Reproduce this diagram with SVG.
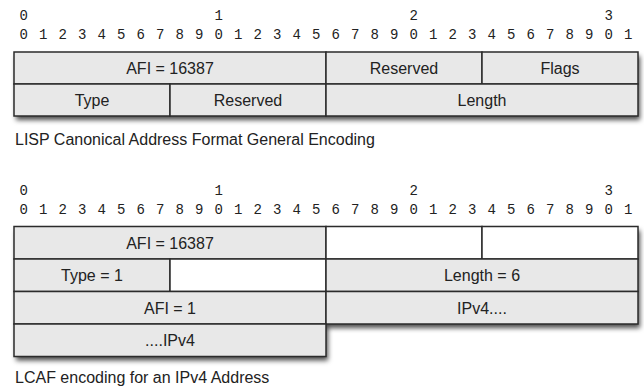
<svg xmlns="http://www.w3.org/2000/svg" width="644" height="390" viewBox="0 0 644 390">
<style>
.bits{font-family:"Liberation Mono","DejaVu Sans Mono",monospace;font-size:14px;fill:#222;text-anchor:middle}
.cell rect{stroke:#2b2b2b;stroke-width:1.5}
.g rect{fill:#e8e8e8}
.w rect{fill:#ffffff}
.lbl{font-family:"Liberation Sans",Arial,sans-serif;font-size:16px;fill:#222;text-anchor:middle}
.cap{font-family:"Liberation Sans",Arial,sans-serif;font-size:16px;fill:#222}
.shadow{fill:#e8e8e8}
</style>
<defs>
<filter id="ds" x="-5%" y="-20%" width="110%" height="160%">
<feDropShadow dx="2" dy="4" stdDeviation="2.5" flood-color="#000" flood-opacity="0.7"/>
</filter>
</defs>
<rect width="644" height="390" fill="#ffffff"/>

<g id="bits1" class="bits">
<text x="23.75" y="20">0</text><text x="218.75" y="20">1</text><text x="413.75" y="20">2</text><text x="608.75" y="20">3</text>
<text x="23.75" y="39">0</text><text x="43.25" y="39">1</text><text x="62.75" y="39">2</text><text x="82.25" y="39">3</text><text x="101.75" y="39">4</text><text x="121.25" y="39">5</text><text x="140.75" y="39">6</text><text x="160.25" y="39">7</text><text x="179.75" y="39">8</text><text x="199.25" y="39">9</text>
<text x="218.75" y="39">0</text><text x="238.25" y="39">1</text><text x="257.75" y="39">2</text><text x="277.25" y="39">3</text><text x="296.75" y="39">4</text><text x="316.25" y="39">5</text><text x="335.75" y="39">6</text><text x="355.25" y="39">7</text><text x="374.75" y="39">8</text><text x="394.25" y="39">9</text>
<text x="413.75" y="39">0</text><text x="433.25" y="39">1</text><text x="452.75" y="39">2</text><text x="472.25" y="39">3</text><text x="491.75" y="39">4</text><text x="511.25" y="39">5</text><text x="530.75" y="39">6</text><text x="550.25" y="39">7</text><text x="569.75" y="39">8</text><text x="589.25" y="39">9</text>
<text x="608.75" y="39">0</text><text x="628.25" y="39">1</text>
</g>

<rect class="shadow" x="14" y="52" width="624" height="64" filter="url(#ds)"/>
<g id="d1-afi" class="cell g"><rect x="14" y="52" width="312" height="32"/><text class="lbl" x="170" y="73.5">AFI = 16387</text></g>
<g id="d1-reserved1" class="cell g"><rect x="326" y="52" width="156" height="32"/><text class="lbl" x="404" y="73.5">Reserved</text></g>
<g id="d1-flags" class="cell g"><rect x="482" y="52" width="156" height="32"/><text class="lbl" x="560" y="73.5">Flags</text></g>
<g id="d1-type" class="cell g"><rect x="14" y="84" width="156" height="32"/><text class="lbl" x="92" y="105.5">Type</text></g>
<g id="d1-reserved2" class="cell g"><rect x="170" y="84" width="156" height="32"/><text class="lbl" x="248" y="105.5">Reserved</text></g>
<g id="d1-length" class="cell g"><rect x="326" y="84" width="312" height="32"/><text class="lbl" x="482" y="105.5">Length</text></g>
<text class="cap" x="15" y="144.5">LISP Canonical Address Format General Encoding</text>

<g id="bits2" class="bits">
<text x="23.75" y="195">0</text><text x="218.75" y="195">1</text><text x="413.75" y="195">2</text><text x="608.75" y="195">3</text>
<text x="23.75" y="214">0</text><text x="43.25" y="214">1</text><text x="62.75" y="214">2</text><text x="82.25" y="214">3</text><text x="101.75" y="214">4</text><text x="121.25" y="214">5</text><text x="140.75" y="214">6</text><text x="160.25" y="214">7</text><text x="179.75" y="214">8</text><text x="199.25" y="214">9</text>
<text x="218.75" y="214">0</text><text x="238.25" y="214">1</text><text x="257.75" y="214">2</text><text x="277.25" y="214">3</text><text x="296.75" y="214">4</text><text x="316.25" y="214">5</text><text x="335.75" y="214">6</text><text x="355.25" y="214">7</text><text x="374.75" y="214">8</text><text x="394.25" y="214">9</text>
<text x="413.75" y="214">0</text><text x="433.25" y="214">1</text><text x="452.75" y="214">2</text><text x="472.25" y="214">3</text><text x="491.75" y="214">4</text><text x="511.25" y="214">5</text><text x="530.75" y="214">6</text><text x="550.25" y="214">7</text><text x="569.75" y="214">8</text><text x="589.25" y="214">9</text>
<text x="608.75" y="214">0</text><text x="628.25" y="214">1</text>
</g>

<path class="shadow" d="M14,226.5 H638 V324 H326 V356.5 H14 Z" filter="url(#ds)"/>
<g id="d2-afi" class="cell g"><rect x="14" y="226.5" width="312" height="32.5"/><text class="lbl" x="170" y="248.5">AFI = 16387</text></g>
<g id="d2-blank1" class="cell w"><rect x="326" y="226.5" width="156" height="32.5"/></g>
<g id="d2-blank2" class="cell w"><rect x="482" y="226.5" width="156" height="32.5"/></g>
<g id="d2-type" class="cell g"><rect x="14" y="259" width="156" height="32.5"/><text class="lbl" x="92" y="281">Type = 1</text></g>
<g id="d2-blank3" class="cell w"><rect x="170" y="259" width="156" height="32.5"/></g>
<g id="d2-length" class="cell g"><rect x="326" y="259" width="312" height="32.5"/><text class="lbl" x="482" y="281">Length = 6</text></g>
<g id="d2-afi1" class="cell g"><rect x="14" y="291.5" width="312" height="32.5"/><text class="lbl" x="170" y="313.5">AFI = 1</text></g>
<g id="d2-ipv4a" class="cell g"><rect x="326" y="291.5" width="312" height="32.5"/><text class="lbl" x="482" y="313.5">IPv4....</text></g>
<g id="d2-ipv4b" class="cell g"><rect x="14" y="324" width="312" height="32.5"/><text class="lbl" x="170" y="346">....IPv4</text></g>
<text class="cap" x="15" y="383">LCAF encoding for an IPv4 Address</text>

<g id="connectors"/>
</svg>
